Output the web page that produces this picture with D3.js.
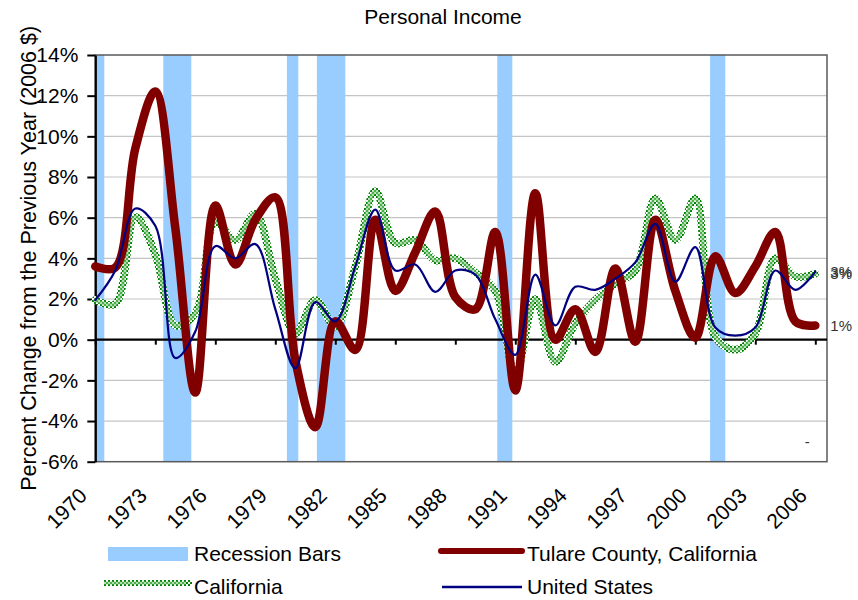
<!DOCTYPE html>
<html>
<head>
<meta charset="utf-8">
<script src="https://cdn.jsdelivr.net/npm/d3@7"></script>
<style>
  body { margin: 0; background: #fff; }
  svg { display: block; }
  text { font-family: "Liberation Sans", Arial, sans-serif; fill: #000; }
</style>
</head>
<body>
<svg id="chart" width="858" height="600"></svg>
<script>
// Annual percent change in real personal income (2006 dollars)
const years = [1970, 1971, 1972, 1973, 1974, 1975, 1976, 1977, 1978, 1979,
               1980, 1981, 1982, 1983, 1984, 1985, 1986, 1987, 1988, 1989,
               1990, 1991, 1992, 1993, 1994, 1995, 1996, 1997, 1998, 1999,
               2000, 2001, 2002, 2003, 2004, 2005, 2006];

const tulare = [3.6, 3.55, 9.4, 12.2, 5.5, -2.6, 6.6, 3.7, 5.9, 7.0,
                -1.0, -4.3, 0.9, -0.5, 5.9, 2.4, 4.3, 6.3, 2.1, 1.5,
                5.3, -2.5, 7.2, 0.0, 1.5, -0.6, 3.5, -0.1, 5.9, 2.4,
                0.1, 4.1, 2.3, 3.6, 5.3, 0.9, 0.7];

const california = [1.95, 1.75, 6.05, 4.2, 0.7, 1.3, 5.8, 4.9, 6.2, 3.0,
                    0.3, 1.95, 0.65, 3.6, 7.3, 4.75, 4.9, 3.9, 4.0, 3.3,
                    2.4, -1.7, 2.0, -1.1, 0.8, 1.95, 2.75, 3.4, 6.95, 4.9,
                    6.95, 0.15, -0.5, 0.3, 4.0, 3.1, 3.25];

const unitedStates = [1.95, 3.4, 6.45, 5.6, -0.9, 0.4, 4.6, 4.0, 4.7, 1.5,
                      -1.4, 1.85, 0.9, 3.6, 6.4, 3.4, 3.7, 2.35, 3.4, 3.2,
                      1.0, -0.75, 3.2, 0.7, 2.6, 2.45, 3.0, 3.8, 5.7, 2.85,
                      4.55, 0.6, 0.2, 0.6, 3.4, 2.45, 3.35];

// Recession periods, in axis-year units [start, end]
const recessions = [[1970.0, 1970.45], [1973.4, 1974.8], [1979.58, 1980.15],
                    [1981.08, 1982.5], [1990.1, 1990.85], [2000.74, 2001.5]];
const recessionLabelValue = -5;

const yTickValues = [-6, -4, -2, 0, 2, 4, 6, 8, 10, 12, 14];
const xTickYears = [1970, 1973, 1976, 1979, 1982, 1985, 1988, 1991, 1994, 1997, 2000, 2003, 2006];

const chartTitle = "Personal Income";
const yAxisTitle = "Percent Change from the Previous Year (2006 $)";
const legendLabels = ["Recession Bars", "Tulare County, California", "California", "United States"];

const colors = { recession: "#99ccff", tulare: "#800000", california: "#008000", us: "#000080", grid: "#c4c4c4" };

const svg = d3.select("#chart");
const plot = { left: 95.3, right: 827, top: 55, bottom: 461.7 };

const x = d3.scaleLinear().domain([1970, 2006]).range([95.3, 815.3]);
const y = d3.scaleLinear().domain([-6, 14]).range([plot.bottom, plot.top]);

// Checkered stroke fills for the California line
const defs = svg.append("defs");
function checker(id, dark, light) {
  const p = defs.append("pattern").attr("id", id).attr("patternUnits", "userSpaceOnUse")
    .attr("width", 4).attr("height", 4);
  p.append("rect").attr("width", 4).attr("height", 4).attr("fill", light);
  p.append("rect").attr("width", 2).attr("height", 2).attr("fill", dark);
  p.append("rect").attr("x", 2).attr("y", 2).attr("width", 2).attr("height", 2).attr("fill", dark);
}
checker("caDark", "#008000", "#ffffff");
checker("caLight", "#4caf4c", "#b4dcb4");

// Title
svg.append("text").attr("x", 443).attr("y", 24).attr("text-anchor", "middle")
  .style("font-size", "21px").text(chartTitle);

// Horizontal gridlines
svg.append("g").selectAll("line")
  .data(yTickValues.filter(v => v !== 0 && v !== 14 && v !== -6))
  .join("line")
  .attr("x1", plot.left).attr("x2", plot.right)
  .attr("y1", d => y(d)).attr("y2", d => y(d))
  .attr("stroke", colors.grid).attr("stroke-width", 1.2);

// Recession bars
svg.append("g").selectAll("rect").data(recessions).join("rect")
  .attr("x", d => Math.max(x(d[0]), plot.left + 1))
  .attr("width", d => x(d[1]) - Math.max(x(d[0]), plot.left + 1))
  .attr("y", plot.top).attr("height", plot.bottom - plot.top)
  .attr("fill", colors.recession);

// Plot frame
svg.append("rect").attr("x", plot.left).attr("y", plot.top)
  .attr("width", plot.right - plot.left).attr("height", plot.bottom - plot.top)
  .attr("fill", "none").attr("stroke", "#5a5a5a").attr("stroke-width", 1.5);

// Y axis
const yAxis = svg.append("g").attr("transform", `translate(${plot.left},0)`)
  .call(d3.axisLeft(y).tickValues(yTickValues).tickSize(8).tickSizeOuter(0).tickPadding(9)
    .tickFormat(d => d + "%"));
yAxis.select(".domain").attr("stroke", "#000").attr("stroke-width", 2.2);
yAxis.selectAll(".tick line").attr("stroke", "#000").attr("stroke-width", 2);
yAxis.selectAll(".tick text").style("font-size", "21px").style("font-family", "'Liberation Sans', Arial, sans-serif").attr("fill", "#000");

// Zero line with year ticks
svg.append("line").attr("x1", plot.left).attr("x2", plot.right)
  .attr("y1", y(0)).attr("y2", y(0)).attr("stroke", "#000").attr("stroke-width", 2.2);
const xAxis = svg.append("g").attr("transform", `translate(0,${y(0)})`)
  .call(d3.axisBottom(x).tickValues(xTickYears).tickSize(5).tickSizeOuter(0).tickFormat(""));
xAxis.select(".domain").remove();
xAxis.selectAll(".tick line").attr("stroke", "#000").attr("stroke-width", 2);

// Year labels below the plot
svg.append("g").selectAll("text").data(xTickYears).join("text")
  .attr("transform", d => `translate(${x(d) - 7},497) rotate(-45)`)
  .attr("text-anchor", "end").style("font-size", "21px").text(d => d);

// Y axis title
svg.append("text").attr("transform", `translate(36,${(plot.top + plot.bottom) / 2}) rotate(-90)`)
  .attr("text-anchor", "middle").style("font-size", "21.5px").text(yAxisTitle);

// Series lines
const line = d3.line().x((d, i) => x(years[i])).y(d => y(d)).curve(d3.curveCatmullRom.alpha(0.5));
const lines = svg.append("g").attr("fill", "none").attr("stroke-linejoin", "round").attr("stroke-linecap", "round");
lines.append("path").datum(california).attr("d", line).attr("stroke", "url(#caDark)").attr("stroke-width", 7.5);
lines.append("path").datum(california).attr("d", line).attr("stroke", "url(#caLight)").attr("stroke-width", 4);
lines.append("path").datum(tulare).attr("d", line).attr("stroke", colors.tulare).attr("stroke-width", 8.5);
lines.append("path").datum(unitedStates).attr("d", line).attr("stroke", colors.us).attr("stroke-width", 2.2);

// End-of-series value labels
const lastYear = years[years.length - 1];
[tulare, california, unitedStates].forEach(s => {
  const v = s[s.length - 1];
  svg.append("text").attr("x", x(lastYear) + 15).attr("y", y(v)).attr("dy", "0.35em")
    .style("font-size", "15px").style("fill", "#333")
    .text(d3.format(".0f")(v) + "%");
});
svg.append("text").attr("x", x(2005.6)).attr("y", y(recessionLabelValue)).attr("dy", "0.35em")
  .attr("text-anchor", "middle").style("font-size", "15px").style("fill", "#333").text("-");

// Legend
const lg = svg.append("g");
lg.append("rect").attr("x", 108).attr("y", 547).attr("width", 80).attr("height", 14).attr("fill", colors.recession);
lg.append("text").attr("x", 194).attr("y", 561).style("font-size", "21px").text(legendLabels[0]);

lg.append("line").attr("x1", 441).attr("x2", 522).attr("y1", 551).attr("y2", 551)
  .attr("stroke", colors.tulare).attr("stroke-width", 6).attr("stroke-linecap", "round");
lg.append("text").attr("x", 527).attr("y", 561).style("font-size", "21px").text(legendLabels[1]);

lg.append("line").attr("x1", 104).attr("x2", 192).attr("y1", 583).attr("y2", 583)
  .attr("stroke", "url(#caDark)").attr("stroke-width", 6);
lg.append("line").attr("x1", 104).attr("x2", 186).attr("y1", 583).attr("y2", 583)
  .attr("stroke", "url(#caLight)").attr("stroke-width", 3);
lg.append("text").attr("x", 194).attr("y", 594).style("font-size", "21px").text(legendLabels[2]);

lg.append("line").attr("x1", 442).attr("x2", 522).attr("y1", 587).attr("y2", 587)
  .attr("stroke", colors.us).attr("stroke-width", 2.5);
lg.append("text").attr("x", 527).attr("y", 594).style("font-size", "21px").text(legendLabels[3]);
</script>
</body>
</html>
